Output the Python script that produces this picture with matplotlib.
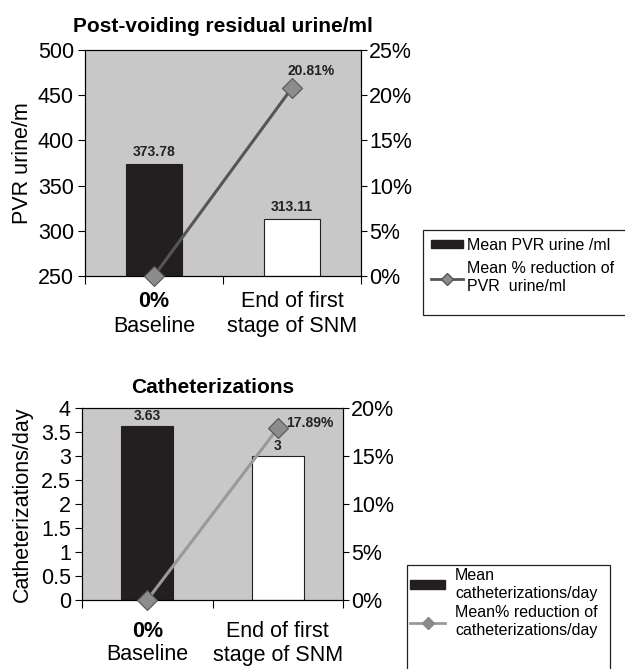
import numpy as np
import matplotlib.pyplot as plt
from matplotlib.ticker import PercentFormatter
from matplotlib.patches import Patch, Rectangle
from matplotlib.lines import Line2D

plt.rcParams['font.family'] = ['Liberation Sans', 'DejaVu Sans']

# data
first_line = ["0%", "End of first"]
second_line = ["Baseline", "stage of SNM"]
pvr_mean = [373.78, 313.11]
pvr_reduction = [0, 20.81]
cath_mean = [3.63, 3]
cath_reduction = [0, 17.89]

W, H = 625, 669
fig = plt.figure(figsize=(W / 100, H / 100), dpi=100)

bg = '#c8c8c8'
bar_colors = ['#231f20', 'white']
PX = 0.72  # px -> pt
FS = 15.5


def rect(l, t, r, b):
    return [l / W, 1 - b / H, (r - l) / W, (b - t) / H]


def draw_panel(box, means, red, ybase, ylim, yticks, rlim, rticks, ylabel,
               lpad, title, tpad, line_col, fmt, lab_off, xlab_off, red_lab):
    ax = fig.add_axes(rect(*box))
    ax.set_facecolor(bg)
    x = np.arange(len(means))
    heights = [m - ybase for m in means]
    ax.bar(x, heights, bottom=ybase, width=0.4, color=bar_colors,
           edgecolor=['#231f20', '#222222'], linewidth=0.8, zorder=2)
    ax.set_xlim(-0.5, 1.5)
    ax.set_ylim(*ylim)
    ax.set_yticks(yticks)
    ax.set_yticklabels([f"{t:g}" for t in yticks])
    ax.set_xticks([-0.5, 0.5, 1.5])
    ax.set_xticklabels([])
    ax.tick_params(axis='x', direction='out', length=6, width=0.8)
    ax.tick_params(axis='y', direction='out', length=5, width=0.8,
                   labelsize=FS, pad=3)
    ax.set_ylabel(ylabel, fontsize=FS, labelpad=lpad)
    ax.set_title(title, fontsize=15, fontweight='bold', pad=tpad)
    for s in ax.spines.values():
        s.set_linewidth(0.8)

    for xi, m in zip(x, means):
        ax.annotate(fmt(m), (xi, m), xytext=(0, lab_off * PX),
                    textcoords='offset points', ha='center', va='bottom',
                    fontsize=10, fontweight='bold', color='#222222')

    for xi, a, b in zip(x, first_line, second_line):
        ax.annotate(a, (xi, 0), xycoords=('data', 'axes fraction'),
                    xytext=(0, -xlab_off[0] * PX), textcoords='offset points',
                    ha='center', va='center', fontsize=FS,
                    fontweight='bold' if a == "0%" else 'normal')
        ax.annotate(b, (xi, 0), xycoords=('data', 'axes fraction'),
                    xytext=(0, -xlab_off[1] * PX), textcoords='offset points',
                    ha='center', va='center', fontsize=FS)

    ax2 = ax.twinx()
    ax2.plot(x, red, color=line_col, lw=2.2, marker='D', markersize=10,
             markerfacecolor='#8c8c8c', markeredgecolor='#555555',
             markeredgewidth=0.8, clip_on=False, zorder=3)
    ax2.set_ylim(*rlim)
    ax2.set_yticks(rticks)
    ax2.yaxis.set_major_formatter(PercentFormatter(decimals=0))
    ax2.tick_params(axis='y', direction='out', length=4.5, width=0.8,
                    labelsize=FS, pad=1.5)
    for s in ax2.spines.values():
        s.set_linewidth(0.8)
    dx, dy, ha = red_lab
    ax2.annotate(f"{red[1]:.2f}%", (x[1], red[1]), xytext=(dx * PX, dy * PX),
                 textcoords='offset points', ha=ha, va='center',
                 fontsize=10, fontweight='bold', color='#222222')
    return ax, ax2


draw_panel((85, 50, 361, 276), pvr_mean, pvr_reduction, 250, (250, 500),
           [250, 300, 350, 400, 450, 500], (0, 25), [0, 5, 10, 15, 20, 25],
           "PVR urine/m", 3, "Post-voiding residual urine/ml", 13, '#555555',
           lambda v: f"{v:.2f}", 5, (25, 50), (19, 17, 'center'))

draw_panel((82, 408, 343, 600), cath_mean, cath_reduction, 0, (0, 4),
           [0, 0.5, 1, 1.5, 2, 2.5, 3, 3.5, 4], (0, 20), [0, 5, 10, 15, 20],
           "Catheterizations/day", 6, "Catheterizations", 11, '#999999',
           lambda v: f"{v:g}", 3, (31.5, 55), (8, 5, 'left'))


def legend_box(l, t, r, b):
    fig.patches.append(Rectangle((l / W, 1 - b / H), (r - l) / W, (b - t) / H,
                                 transform=fig.transFigure, facecolor='white',
                                 edgecolor='#222222', linewidth=0.9,
                                 zorder=0))


# legends
legend_box(423, 230, 640, 315)
h_top = [Patch(facecolor='#231f20', edgecolor='#231f20'),
         Line2D([], [], color='#555555', lw=2, marker='D', markersize=6,
                markerfacecolor='#8c8c8c', markeredgecolor='#555555')]
fig.legend(h_top, ["Mean PVR urine /ml", "Mean % reduction of\nPVR  urine/ml"],
           loc='upper left', bbox_to_anchor=(425 / W, 1 - 232 / H),
           fontsize=11.5, frameon=False, handlelength=2.0, handleheight=0.45,
           borderaxespad=0, handletextpad=0.25, labelspacing=0.55,
           borderpad=0.35)

legend_box(407, 565, 610, 690)
h_bot = [Patch(facecolor='#231f20', edgecolor='#231f20'),
         Line2D([], [], color='#999999', lw=2, marker='D', markersize=6,
                markerfacecolor='#8c8c8c', markeredgecolor='#888888')]
fig.legend(h_bot, ["Mean\ncatheterizations/day",
                   "Mean% reduction of\ncatheterizations/day"],
           loc='upper left', bbox_to_anchor=(407 / W, 1 - 565 / H),
           fontsize=11.5, frameon=False, handlelength=2.2, handleheight=0.45,
           borderaxespad=0, handletextpad=0.6, labelspacing=0.3,
           borderpad=0.2)

fig.savefig('out.png', dpi=100)
